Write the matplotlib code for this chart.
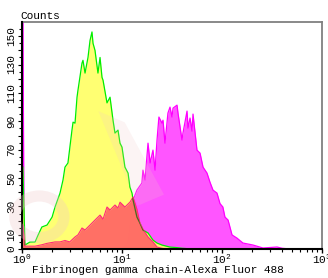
import math
import matplotlib
matplotlib.use("Agg")
import matplotlib.pyplot as plt
from matplotlib.patches import Circle, Polygon
from matplotlib.ticker import FixedLocator, FuncFormatter, LogLocator, NullFormatter

plt.rcParams['font.family'] = ['Liberation Mono', 'DejaVu Sans']
plt.rcParams['mathtext.fontset'] = 'custom'
plt.rcParams['mathtext.rm'] = 'Liberation Mono'

# control (yellow / green edge)
ctrl_x = [1.0, 1.0, 1.02, 1.07, 1.20, 1.35, 1.45, 1.58, 1.78, 2.0, 2.14, 2.40, 2.57, 2.69,
          2.88, 3.16, 3.24, 3.39, 3.55, 3.63, 3.98, 4.07, 4.27, 4.57, 4.79, 5.01, 5.13,
          5.37, 5.75, 6.03, 6.31, 6.46, 7.08, 7.59, 8.13, 8.51, 9.12, 9.55, 10.0, 10.7,
          11.5, 12.0, 12.6, 12.9, 14.1, 15.1, 16.2, 18.2, 20.4, 22.4, 25.1, 30.0, 35.0,
          40.0, 50.0]
ctrl_y = [0, 58, 58, 2.8, 4.9, 4.9, 9.9, 15.5, 16.9, 22.5, 29.6, 39.4, 48.6, 57.7,
          60.6, 83.8, 89.4, 88.7, 107, 112, 131, 133, 124, 135, 147, 153, 145,
          140, 124, 135, 121, 119, 103, 107, 90.8, 81.7, 83.8, 74.6, 71.8, 57.7,
          53.5, 43.7, 39.4, 34.5, 22.5, 18.3, 13.4, 11.3, 6.3, 4.2, 2.8, 1.4, 1.0,
          0.5, 0]

# unstained (red)
blank_x = [1.0, 1.0, 1.02, 1.07, 1.20, 1.35, 1.58, 1.78, 2.14, 2.40, 2.69, 3.0, 3.39,
           3.63, 3.98, 4.27, 4.79, 5.37, 6.03, 6.46, 7.08, 7.59, 8.51, 9.12, 9.55, 10.7,
           12.0, 12.9, 14.1, 15.1, 16.2, 18.2, 20.4, 22.4, 25.0, 28.0]
blank_y = [0, 17, 17, 2, 2, 2, 3, 4, 5, 5, 6, 5, 8.5,
           10, 14.8, 13.4, 16.9, 20.4, 23.9, 21, 29.6, 27.5, 31, 28.9, 33, 29.6,
           33, 36.6, 28, 18.3, 14, 8.5, 5, 1.4, 0.5, 0]

# sample (magenta)
samp_x = [1.0, 1.0, 1.02, 1.05, 10.0, 11.5, 12.0, 12.9, 14.1, 15.8, 16.2, 17.0, 18.2,
          19.1, 20.4, 21.4, 22.4, 23.4, 25.1, 25.7, 26.9, 28.8, 30.2, 31.6, 32.4, 35.5,
          36.3, 39.8, 40.7, 44.7, 45.7, 47.9, 50.1, 51.3, 56.2, 60.3, 64.6, 70.8, 75.9,
          81.3, 89.1, 95.5, 102, 107, 115, 126, 141, 162, 204, 257, 355, 400, 479]
samp_y = [0, 170, 170, 0, 0, 5, 15, 34.5, 41.5, 46.5, 55.6, 48.6, 74.6,
          60.6, 69.7, 55.6, 76.8, 93, 88.7, 90.8, 74.6, 95.8, 100, 93, 99.3, 101.4,
          95.8, 76.8, 81.7, 97.2, 85.2, 92.3, 83.1, 95.1, 69.7, 67.6, 57.7, 53.5, 47,
          41.5, 39.4, 32, 29.6, 22.5, 20.4, 9.9, 7.7, 4.2, 2.8, 0.7, 1.4, 0.5, 0]

y_major = list(range(0, 151, 10))
y_labeled = [0, 10, 30, 50, 70, 90, 110, 130, 150]

fig = plt.figure(figsize=(3.28, 2.78), dpi=100)
ax = fig.add_axes([22 / 328, 1 - 249 / 278, 300 / 328, 227 / 278])

# faint watermark, lower left
wm = '#f0c8c8'
fig.patches.append(Circle((0.12, 0.22), 0.075, transform=fig.transFigure, fill=False,
                          lw=8, ec=wm, alpha=0.3, zorder=0))
fig.patches.append(Polygon([[0.3, 0.6], [0.38, 0.56], [0.5, 0.3], [0.42, 0.26]],
                           closed=True, transform=fig.transFigure, fc=wm, ec='none',
                           alpha=0.2, zorder=0))
ax.set_facecolor('none')

ax.fill_between(samp_x, samp_y, color='#ff55ff', lw=0, zorder=2)
ax.plot(samp_x, samp_y, color='#ff00ff', lw=0.9, zorder=2.1)

ax.fill_between(ctrl_x, ctrl_y, color='#ffff66', alpha=0.92, lw=0, zorder=3)
ax.plot(ctrl_x, ctrl_y, color='#00ee00', lw=0.9, zorder=3.1)

red = ax.fill_between(blank_x, blank_y, color='#ff6464', alpha=0.92, lw=0, zorder=4)
ax.plot(blank_x, blank_y, color='#ff2a7a', lw=0.8, zorder=4.1)

dark, = ax.plot(ctrl_x, ctrl_y, color='#4a6a20', lw=0.9, zorder=4.2)
dark.set_clip_path(red.get_paths()[0], ax.transData)

ax.set_xscale('log')
ax.set_xlim(1, 1000)
ax.set_ylim(0, 160)

ax.xaxis.set_major_locator(LogLocator(base=10))
ax.xaxis.set_minor_locator(LogLocator(base=10, subs=range(2, 10)))
ax.xaxis.set_minor_formatter(NullFormatter())
ax.xaxis.set_major_formatter(FuncFormatter(lambda v, p: '10$^{%d}$' % round(math.log10(v))))

ax.yaxis.set_major_locator(FixedLocator(y_major))
ax.yaxis.set_minor_locator(FixedLocator([v + 5 for v in y_major]))
ax.yaxis.set_major_formatter(FuncFormatter(lambda v, p: '%d' % v if int(v) in y_labeled else ''))

ax.tick_params(axis='x', which='major', length=3, width=1, labelsize=8, pad=0)
ax.tick_params(axis='x', which='minor', length=2, width=0.8)
ax.tick_params(axis='y', which='major', length=3, width=0.8, labelsize=8, pad=1)
ax.tick_params(axis='y', which='minor', length=2, width=0.8)
for lab in ax.get_yticklabels():
    lab.set_rotation(90)
    lab.set_va('center')

for s in ['left', 'bottom']:
    ax.spines[s].set_color('black')
    ax.spines[s].set_linewidth(1.5)
    ax.spines[s].set_zorder(5)
for s in ['top', 'right']:
    ax.spines[s].set_color('#808080')
    ax.spines[s].set_linewidth(1.3)

ax.set_xlabel('Fibrinogen gamma chain-Alexa Fluor 488', fontsize=8)
ax.xaxis.set_label_coords(0.453, -0.072)
fig.text(20 / 328, 1 - 16 / 278, 'Counts', fontsize=8, ha='left', va='center')

fig.savefig('out.png', dpi=100)
